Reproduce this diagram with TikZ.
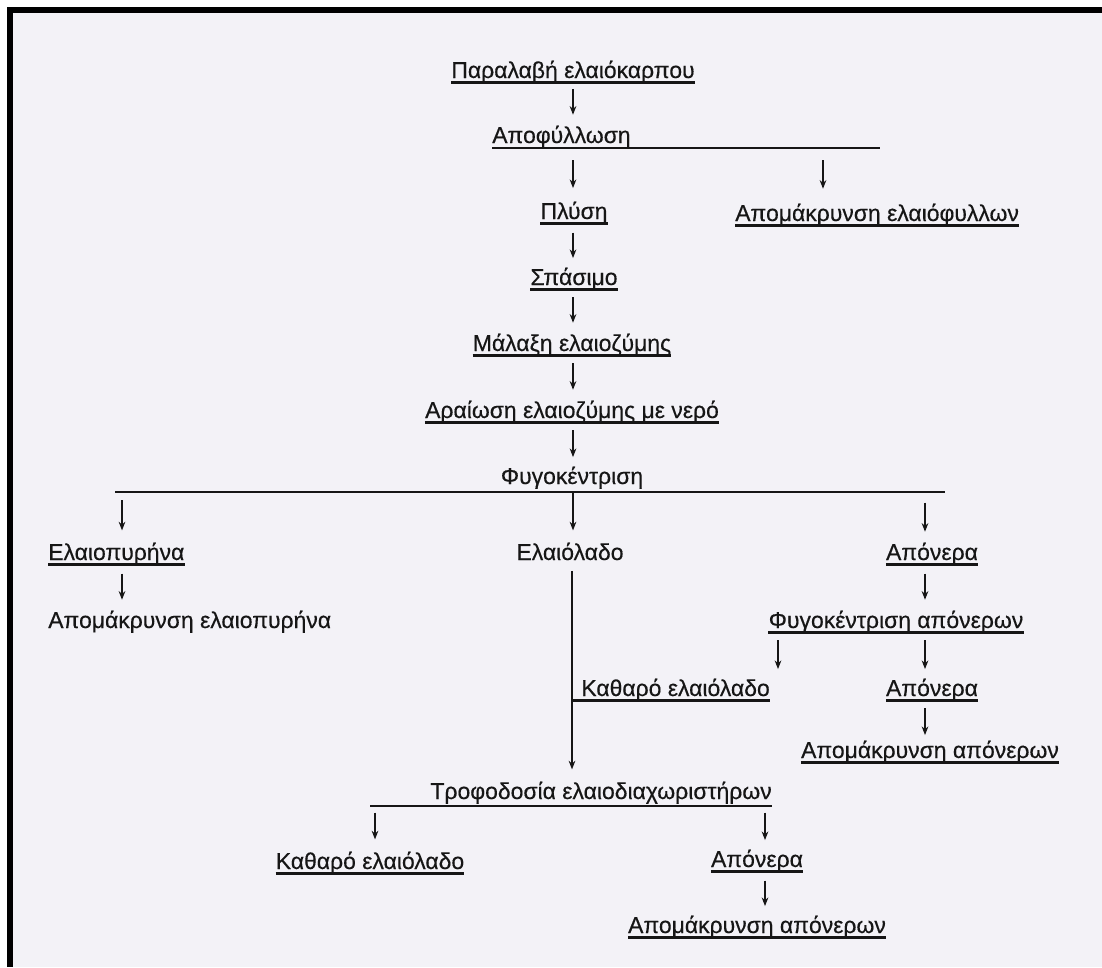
\documentclass[tikz,border=0pt]{standalone}
\usepackage{fontspec}
\setmainfont[FakeBold=0.35]{Liberation Sans}
\usetikzlibrary{arrows.meta}
\definecolor{paper}{RGB}{243,242,247}
\definecolor{ink}{RGB}{22,22,22}
\newcommand\flowarrow[4][]{\draw[arr,#1] (#2 -| #4) -- (#4 |- #3);}
\begin{document}
\begin{tikzpicture}[x=0.75pt,y=-0.75pt,
  lbl/.style={anchor=base,inner sep=0pt,text height=12pt,text depth=4pt,
              font=\fontsize{17.2}{19}\selectfont,text=ink},
  uline/.style={line width=2.1pt,draw=ink},
  bar/.style={line width=2.2pt,draw=ink},
  arr/.style={draw=ink,line width=0.85pt,shorten <=6pt,shorten >=8pt,
              -{Stealth[length=6.5pt,width=5pt]}},
  vline/.style={draw=ink,line width=1pt}]
\useasboundingbox (0,0) rectangle (1102,967);
\fill[white] (0,0) rectangle (1102,967);
\fill[paper] (13,13) rectangle (1102,967);
\fill[black] (7,7) rectangle (13,967);
\fill[black] (7,7) rectangle (1102,13);

% x positions of the connectors
\coordinate (X1) at (573,0);
\coordinate (X2) at (823,0);
\coordinate (X3) at (122,0);
\coordinate (X4) at (925,0);
\coordinate (X5) at (778,0);
\coordinate (X6) at (375,0);
\coordinate (X7) at (765,0);
\coordinate (X8) at (572,0);

% nodes
\node[lbl] (p1)  at (573,78)  {Παραλαβή ελαιόκαρπου};
\node[lbl,anchor=base west] (p2) at (492,143) {Αποφύλλωση};
\node[lbl] (p3)  at (574,219) {Πλύση};
\node[lbl,anchor=base west] (p4)  at (735,221) {Απομάκρυνση ελαιόφυλλων};
\node[lbl] (p5)  at (574,285) {Σπάσιμο};
\node[lbl] (p6)  at (572,351) {Μάλαξη ελαιοζύμης};
\node[lbl] (p7)  at (572,418) {Αραίωση ελαιοζύμης με νερό};
\node[lbl] (p8)  at (572,484) {Φυγοκέντριση};
\node[lbl,anchor=base west] (p9)  at (48,560) {Ελαιοπυρήνα};
\node[lbl,anchor=base west] (p10) at (48,628) {Απομάκρυνση ελαιοπυρήνα};
\node[lbl] (p11) at (570,560) {Ελαιόλαδο};
\node[lbl] (p12) at (932,560) {Απόνερα};
\node[lbl] (p13) at (896,628) {Φυγοκέντριση απόνερων};
\node[lbl,anchor=base east] (p14) at (770,696) {Καθαρό ελαιόλαδο};
\node[lbl] (p15) at (932,696) {Απόνερα};
\node[lbl] (p16) at (930,758) {Απομάκρυνση απόνερων};
\node[lbl,anchor=base east] (p17) at (772,799) {Τροφοδοσία ελαιοδιαχωριστήρων};
\node[lbl] (p18) at (370,869) {Καθαρό ελαιόλαδο};
\node[lbl] (p19) at (757,867) {Απόνερα};
\node[lbl] (p20) at (757,933) {Απομάκρυνση απόνερων};

% underlines
\foreach \n in {p1,p3,p4,p5,p6,p7,p9,p12,p13,p15,p16,p18,p19,p20}
  \draw[uline] ([yshift=-3.2pt]\n.base west) -- ([yshift=-3.2pt]\n.base east);
\coordinate (u14) at ([yshift=-3.2pt]p14.base east);
\draw[uline] (X8 |- u14) -- (u14);

% branch lines
\coordinate (e2) at (880,148);
\draw[bar] (p2.base west |- e2) -- (e2);
\coordinate (l8) at (115,492);
\coordinate (r8) at (945,492);
\draw[bar] (l8) -- (r8);
\coordinate (l17) at (370,806);
\draw[bar] (l17) -- (p17.base east |- l17);

% arrows
\flowarrow[shorten <=4pt,shorten >=9pt]{p1.south}{p2.north}{X1}
\flowarrow[shorten <=9pt,shorten >=11pt]{e2}{p3.north}{X1}
\flowarrow[shorten <=9pt,shorten >=12pt]{e2}{p4.north}{X2}
\flowarrow{p3.south}{p5.north}{X1}
\flowarrow[shorten <=5pt,shorten >=9pt]{p5.south}{p6.north}{X1}
\flowarrow[shorten <=5pt,shorten >=9pt]{p6.south}{p7.north}{X1}
\flowarrow[shorten <=5pt]{p7.south}{p8.north}{X1}
\flowarrow[shorten <=6pt,shorten >=10pt]{l8}{p9.north}{X3}
\flowarrow[shorten <=0pt,shorten >=10pt]{l8}{p11.north}{X1}
\flowarrow[shorten <=8pt,shorten >=9pt]{l8}{p12.north}{X4}
\flowarrow[shorten >=9pt]{p9.south}{p10.north}{X3}
\flowarrow[line width=1pt,shorten <=4pt,shorten >=10pt]{p11.south}{p17.north}{X8}
\flowarrow[shorten >=9pt]{p12.south}{p13.north}{X4}
\flowarrow[shorten <=5pt]{p13.south}{p14.north}{X5}
\flowarrow[shorten <=5pt]{p13.south}{p15.north}{X4}
\flowarrow[shorten <=5pt,shorten >=5pt]{p15.south}{p16.north}{X4}
\flowarrow[shorten <=5pt,shorten >=10pt]{l17}{p18.north}{X6}
\flowarrow[shorten <=5pt,shorten >=8pt]{l17}{p19.north}{X7}
\flowarrow{p19.south}{p20.north}{X7}
\end{tikzpicture}
\end{document}
